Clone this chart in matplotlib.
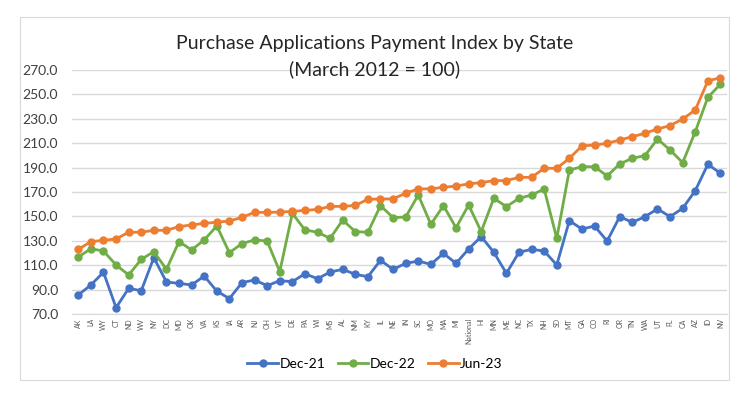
import matplotlib
matplotlib.use('Agg')
import matplotlib.pyplot as plt
from matplotlib.patches import Rectangle

# dados
states = ['AK', 'LA', 'WY', 'CT', 'ND', 'WV', 'NY', 'DC', 'MD', 'OK', 'VA', 'KS', 'IA',
          'AR', 'NJ', 'OH', 'VT', 'DE', 'PA', 'WI', 'MS', 'AL', 'NM', 'KY', 'IL', 'NE',
          'IN', 'SC', 'MO', 'MA', 'MI', 'National', 'HI', 'MN', 'ME', 'NC', 'TX', 'NH',
          'SD', 'MT', 'GA', 'CO', 'RI', 'OR', 'TN', 'WA', 'UT', 'FL', 'CA', 'AZ', 'ID', 'NV']

dec21 = [85.6, 93.8, 104.2, 75.2, 91.0, 89.1, 116.2, 96.2, 95.1, 93.8, 101.1, 88.8, 82.6,
         95.7, 97.9, 93.2, 97.3, 96.5, 103.0, 98.9, 104.4, 106.6, 102.5, 100.6, 114.0, 106.6,
         111.5, 113.4, 110.7, 119.7, 111.5, 123.3, 133.4, 120.6, 103.3, 120.6, 123.0, 121.6,
         110.2, 146.5, 139.6, 142.1, 129.8, 149.8, 145.1, 149.8, 156.1, 149.8, 156.6, 171.1,
         192.7, 185.3]

dec22 = [116.7, 123.5, 121.6, 110.2, 102.0, 114.8, 121.1, 106.6, 129.3, 122.5, 130.7, 142.1,
         120.3, 127.7, 130.7, 129.8, 104.7, 152.5, 138.9, 137.0, 132.0, 147.0, 137.5, 137.0,
         158.8, 149.0, 149.5, 167.5, 143.5, 158.8, 140.7, 159.3, 137.5, 164.8, 158.0, 164.8,
         167.5, 172.4, 132.0, 188.0, 190.7, 190.7, 183.1, 193.0, 197.6, 199.8, 213.4, 204.4,
         194.0, 219.4, 247.6, 258.3]

jun23 = [123.0, 129.3, 130.4, 131.5, 137.0, 137.0, 138.6, 138.6, 141.6, 143.0, 144.3, 145.2,
         146.2, 149.2, 153.3, 153.3, 153.5, 154.1, 154.9, 155.7, 158.2, 158.2, 159.0, 164.0,
         164.3, 164.3, 169.0, 172.5, 172.6, 173.8, 174.9, 176.6, 177.7, 179.3, 179.3, 182.0,
         182.0, 189.4, 189.4, 197.6, 207.7, 208.5, 209.9, 212.6, 215.3, 218.1, 221.6, 224.4,
         229.8, 237.2, 261.0, 263.7]

yticks = [70, 90, 110, 130, 150, 170, 190, 210, 230, 250, 270]

plt.rcParams['font.family'] = ['Lato', 'DejaVu Sans']

fig = plt.figure(figsize=(7.5, 3.93), dpi=100)
ax = fig.add_axes([0.096, 0.201, 0.873, 0.621])

# moldura do grafico
fig.patches.append(Rectangle((20 / 750, 1 - 380 / 393), 709 / 750, 363 / 393,
                             transform=fig.transFigure, fill=False,
                             edgecolor='#D9D9D9', linewidth=0.8))

x = range(len(states))
ax.plot(x, dec21, color='#4472C4', marker='o', markersize=5, linewidth=2, label='Dec-21')
ax.plot(x, dec22, color='#70AD47', marker='o', markersize=5, linewidth=2, label='Dec-22')
ax.plot(x, jun23, color='#ED7D31', marker='o', markersize=5, linewidth=2, label='Jun-23')

ax.set_xlim(-0.5, len(states) - 0.5)
ax.set_ylim(70, 270)
ax.set_yticks(yticks)
ax.set_yticklabels([f'{v:.1f}' for v in yticks], fontsize=10, color='#404040')
ax.set_xticks(list(x))
ax.set_xticklabels(states, rotation=90, fontsize=5, color='#595959')
ax.tick_params(axis='both', length=0)
ax.tick_params(axis='y', pad=10)
ax.tick_params(axis='x', pad=3)
ax.grid(axis='y', color='#D9D9D9', linewidth=1)
ax.set_axisbelow(True)
for s in ['top', 'right', 'left']:
    ax.spines[s].set_visible(False)
ax.spines['bottom'].set_color('#D9D9D9')

fig.text(0.5, 1 - 43 / 393, 'Purchase Applications Payment Index by State',
         ha='center', va='center', fontsize=14, color='#262626')
fig.text(0.5, 1 - 69 / 393, '(March 2012 = 100)',
         ha='center', va='center', fontsize=14, color='#262626')

fig.legend(loc='center', bbox_to_anchor=(0.5, 1 - 364 / 393), ncol=3, frameon=False,
           fontsize=10, handlelength=2.2, columnspacing=0.9, handletextpad=0.1)

fig.savefig('out.png', dpi=100)
